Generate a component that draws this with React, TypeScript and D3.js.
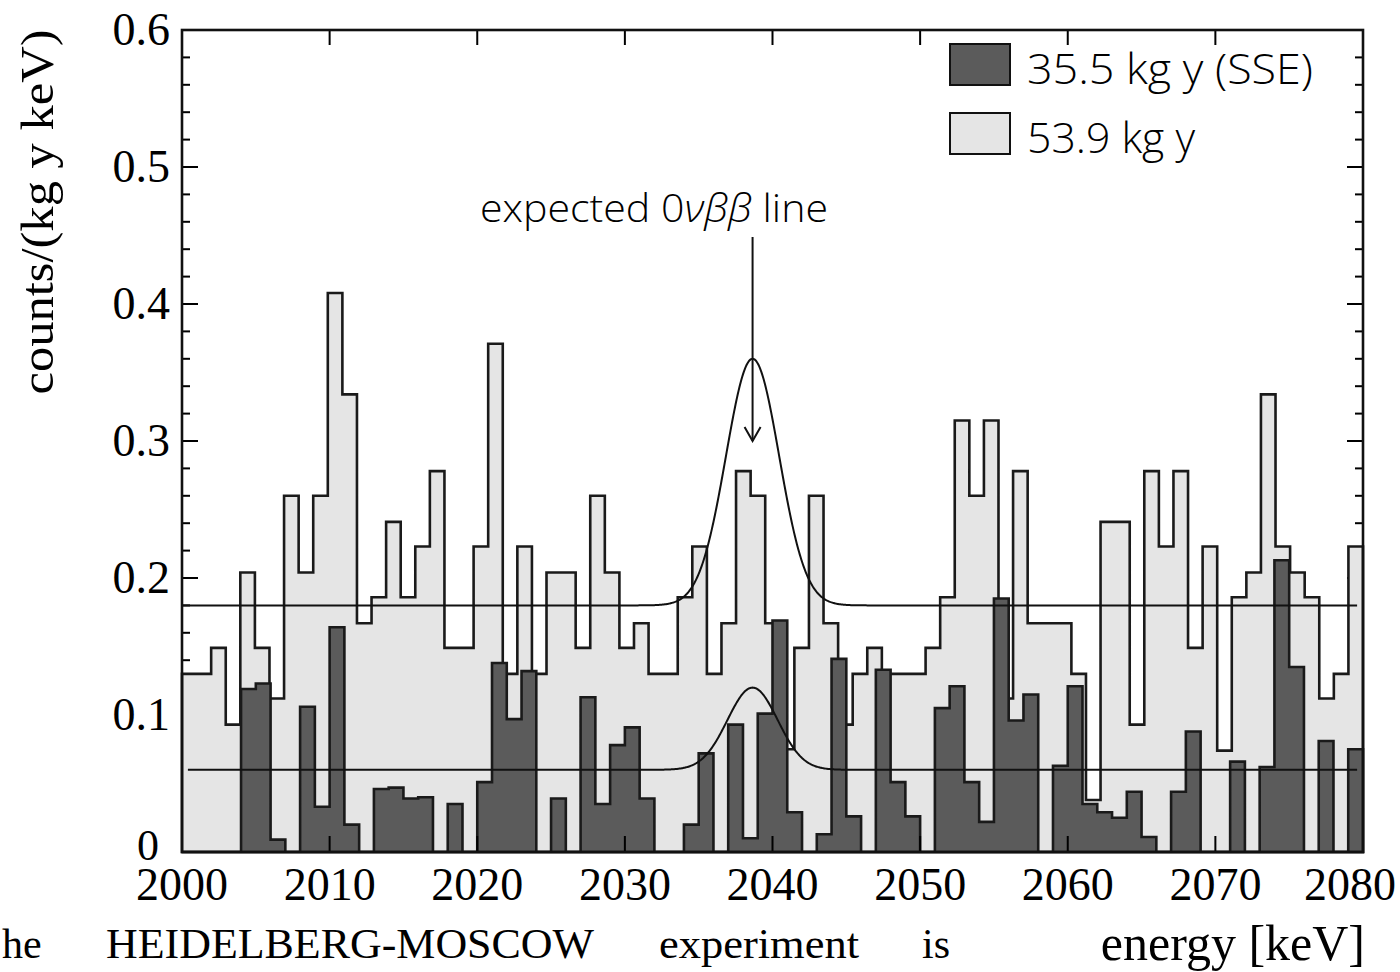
import React from 'react';
import * as d3 from 'd3';

// Energy window and axis ticks
const ENERGY_MIN = 2000;
const ENERGY_MAX = 2080;
const X_TICKS = [2000, 2010, 2020, 2030, 2040, 2050, 2060, 2070, 2080];
const Y_TICKS = [0, 0.1, 0.2, 0.3, 0.4, 0.5, 0.6];
const Y_TICK_LABELS = ['0', '0.1', '0.2', '0.3', '0.4', '0.5', '0.6'];

// Full data set, 53.9 kg y: 81 channels spread across the window
const FULL_BIN_COUNT = 81;
const FULL_SPECTRUM = [
  0.130, 0.130, 0.149, 0.093, 0.204, 0.149, 0.112, 0.260, 0.204, 0.260,
  0.408, 0.334, 0.167, 0.186, 0.241, 0.186, 0.223, 0.278, 0.149, 0.149,
  0.223, 0.371, 0.130, 0.223, 0.130, 0.204, 0.204, 0.149, 0.260, 0.204,
  0.149, 0.167, 0.130, 0.130, 0.186, 0.223, 0.130, 0.167, 0.278, 0.260,
  0.167, 0.075, 0.149, 0.260, 0.167, 0.093, 0.130, 0.149, 0.130, 0.130,
  0.130, 0.149, 0.186, 0.315, 0.260, 0.315, 0.112, 0.278, 0.167, 0.167,
  0.167, 0.130, 0.038, 0.241, 0.241, 0.093, 0.278, 0.223, 0.278, 0.149,
  0.223, 0.074, 0.186, 0.204, 0.334, 0.223, 0.204, 0.186, 0.112, 0.130,
  0.223,
];

// Pulse-shape selected data, 35.5 kg y: 1 keV channels
const SSE_BIN_WIDTH = 1;
const SSE_SPECTRUM = [
  0, 0, 0, 0, 0.119, 0.123, 0.009, 0, 0.106, 0.033,
  0.164, 0.020, 0, 0.046, 0.047, 0.039, 0.040, 0, 0.035, 0,
  0.051, 0.138, 0.097, 0.132, 0, 0.039, 0, 0.113, 0.035, 0.078,
  0.091, 0.039, 0, 0, 0.020, 0.072, 0, 0.093, 0.010, 0.101,
  0.169, 0.029, 0, 0.013, 0.141, 0.026, 0, 0.133, 0.051, 0.026,
  0, 0.105, 0.121, 0.051, 0.022, 0.185, 0.096, 0.115, 0, 0.063,
  0.121, 0.035, 0.029, 0.025, 0.044, 0.011, 0, 0.044, 0.088, 0,
  0, 0.066, 0, 0.062, 0.213, 0.135, 0, 0.081, 0, 0.075,
];

// Expected line shape on top of a flat background: [background, peak height, centre, sigma, from, to]
const FULL_LINE_FIT = [0.18, 0.18, 2038.65, 1.8, 2000, 2079.6];
const SSE_LINE_FIT = [0.06, 0.06, 2038.65, 1.7, 2000.4, 2079.6];

const LEGEND = [
  { label: '35.5 kg y (SSE)', fill: '#5b5b5b', width: 286 },
  { label: '53.9 kg y', fill: '#e5e5e5', width: 168 },
];

const W = 1400;
const H = 972;
const PLOT = { left: 182, right: 1363, top: 30, bottom: 852 };

const SERIF = '"Liberation Serif", "Times New Roman", serif';
const SANS = '"Open Sans", "DejaVu Sans", sans-serif';

export default function App() {
  const x = d3.scaleLinear().domain([ENERGY_MIN, ENERGY_MAX]).range([PLOT.left, PLOT.right]);
  const y = d3.scaleLinear().domain([0, 0.6]).range([PLOT.bottom, PLOT.top]);

  const line = d3
    .line<[number, number]>()
    .x((d) => x(d[0]))
    .y((d) => y(d[1]));

  // Outline of a histogram as a closed step polygon sitting on the baseline
  const stepPoints = (values: number[], start: number, width: number): [number, number][] => {
    const pts: [number, number][] = [[start, 0]];
    values.forEach((v, i) => {
      pts.push([start + i * width, v]);
      pts.push([start + (i + 1) * width, v]);
    });
    pts.push([start + values.length * width, 0]);
    return pts;
  };

  const fullWidth = (ENERGY_MAX - ENERGY_MIN) / FULL_BIN_COUNT;
  const fullPath = line(stepPoints(FULL_SPECTRUM, ENERGY_MIN, fullWidth)) + 'Z';
  const ssePath = line(stepPoints(SSE_SPECTRUM, ENERGY_MIN, SSE_BIN_WIDTH)) + 'Z';

  const fitPath = (p: number[]) => {
    const [bg, amp, mu, sigma, from, to] = p;
    const pts: [number, number][] = d3
      .range(from, to + 1e-9, 0.05)
      .map((e) => [e, bg + amp * Math.exp(-((e - mu) ** 2) / (2 * sigma * sigma))]);
    return line(pts) || '';
  };

  const yMinor = d3.range(0, 0.6001, 0.02);
  const arrowX = x(FULL_LINE_FIT[2]);
  // keep the last energy label inside the page
  const xLabelPos = (t: number) => Math.min(x(t), W - 50);

  return (
    <svg
      width={W}
      height={H}
      viewBox={`0 0 ${W} ${H}`}
      style={{ position: 'absolute', left: 0, top: 0, background: '#fff' }}
    >
      {/* y ticks, left and right, drawn beneath the spectra */}
      <g stroke="#000" strokeWidth={2}>
        {yMinor.map((v, i) => {
          const major = Math.abs(v * 10 - Math.round(v * 10)) < 1e-6;
          const len = major ? 16 : 8;
          return (
            <g key={i}>
              <line x1={PLOT.left} x2={PLOT.left + len} y1={y(v)} y2={y(v)} />
              <line x1={PLOT.right} x2={PLOT.right - len} y1={y(v)} y2={y(v)} />
            </g>
          );
        })}
      </g>

      {/* 53.9 kg y spectrum */}
      <path d={fullPath} fill="#e5e5e5" stroke="#1a1a1a" strokeWidth={2.6} strokeLinejoin="miter" />
      {/* 35.5 kg y SSE spectrum */}
      <path d={ssePath} fill="#5b5b5b" stroke="#1a1a1a" strokeWidth={2.6} strokeLinejoin="miter" />

      {/* x ticks */}
      <g stroke="#000" strokeWidth={2}>
        {X_TICKS.map((t) => (
          <g key={t}>
            <line x1={x(t)} x2={x(t)} y1={PLOT.bottom} y2={PLOT.bottom - 16} />
            <line x1={x(t)} x2={x(t)} y1={PLOT.top} y2={PLOT.top + 15} />
          </g>
        ))}
      </g>

      {/* line-shape curves */}
      <path d={fitPath(FULL_LINE_FIT)} fill="none" stroke="#111" strokeWidth={2} />
      <path d={fitPath(SSE_LINE_FIT)} fill="none" stroke="#111" strokeWidth={2} />

      {/* frame */}
      <rect
        x={PLOT.left}
        y={PLOT.top}
        width={PLOT.right - PLOT.left}
        height={PLOT.bottom - PLOT.top}
        fill="none"
        stroke="#111"
        strokeWidth={2.6}
      />

      {/* y tick labels */}
      <g fontFamily={SERIF} fontSize={46} fill="#000">
        {Y_TICKS.map((v, i) =>
          v === 0 ? (
            <text key={i} x={148} y={y(v) + 8} textAnchor="middle" fontSize={44}>
              {Y_TICK_LABELS[i]}
            </text>
          ) : (
            <text key={i} x={170} y={y(v) + 15} textAnchor="end">
              {Y_TICK_LABELS[i]}
            </text>
          )
        )}
      </g>

      {/* x tick labels */}
      <g fontFamily={SERIF} fontSize={46} fill="#000">
        {X_TICKS.map((t) => (
          <text key={t} x={xLabelPos(t)} y={900} textAnchor="middle">
            {t}
          </text>
        ))}
      </g>

      {/* axis titles */}
      <text
        transform="translate(53,212) rotate(-90)"
        textAnchor="middle"
        fontFamily={SERIF}
        fontSize={47}
        textLength={365}
        lengthAdjust="spacingAndGlyphs"
      >
        counts/(kg y keV)
      </text>
      <text x={1365} y={960} textAnchor="end" fontFamily={SERIF} fontSize={50}>
        energy [keV]
      </text>

      {/* running text below the figure */}
      <g fontFamily={SERIF} fontSize={42} fill="#000">
        <text x={2} y={958}>he</text>
        <text x={106} y={958} textLength={488} lengthAdjust="spacingAndGlyphs">HEIDELBERG-MOSCOW</text>
        <text x={659} y={958} textLength={200} lengthAdjust="spacingAndGlyphs">experiment</text>
        <text x={922} y={958}>is</text>
      </g>

      {/* annotation and arrow */}
      <text x={480} y={222} fontFamily={SANS} fontSize={39} fontWeight={300} textLength={348} lengthAdjust="spacingAndGlyphs">
        expected 0<tspan fontStyle="italic">νββ</tspan> line
      </text>
      <g stroke="#111" strokeWidth={2} fill="none">
        <line x1={arrowX} x2={arrowX} y1={237} y2={441} />
        <polyline points={`${arrowX - 8},427 ${arrowX},441 ${arrowX + 8},427`} />
      </g>

      {/* legend */}
      <g>
        {LEGEND.map((d, i) => (
          <g key={d.label} transform={`translate(0,${i * 69})`}>
            <rect x={950} y={44} width={60} height={41} fill={d.fill} stroke="#111" strokeWidth={2} />
            <text
              x={1027}
              y={84}
              fontFamily={SANS}
              fontSize={43}
              fontWeight={300}
              fill="#000"
              textLength={d.width}
              lengthAdjust="spacingAndGlyphs"
            >
              {d.label}
            </text>
          </g>
        ))}
      </g>
    </svg>
  );
}
